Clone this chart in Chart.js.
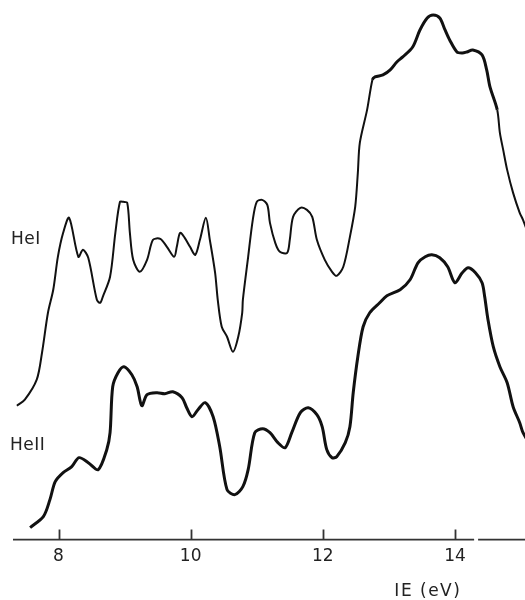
<!DOCTYPE html>
<html>
<head>
<meta charset="utf-8">
<script src="https://cdn.jsdelivr.net/npm/chart.js@4.4.1/dist/chart.umd.min.js"></script>
<style>
html,body{margin:0;padding:0;background:#fff;}
canvas{display:block;}
</style>
</head>
<body>
<canvas id="c" width="525" height="600"></canvas>
<script>
// Ionization energy (eV) and relative intensity (arbitrary units, offset traces)
const heIEnergy = [7.37,7.49,7.67,7.75,7.84,7.92,7.99,8.07,8.16,8.30,8.37,8.45,8.58,8.63,8.67,8.78,8.86,8.93,8.98,9.04,9.08,9.13,9.23,9.34,9.43,9.54,9.64,9.75,9.79,9.84,9.91,9.99,10.07,10.14,10.23,10.29,10.37,10.41,10.47,10.55,10.64,10.72,10.78,10.79,10.87,10.94,11.00,11.08,11.16,11.20,11.28,11.35,11.46,11.50,11.55,11.66,11.76,11.84,11.91,12.03,12.14,12.21,12.31,12.41,12.49,12.53,12.56,12.67,12.75,12.79,12.91,13.02,13.12,13.21,13.36,13.47,13.58,13.67,13.77,13.85,13.92,14.03,14.11,14.18,14.27,14.41,14.48,14.53,14.64,14.68,14.73,14.79,14.88,14.98,15.03,15.14];
const heIIntensity = [134,140,160,187,227,250,283,307,322,283,290,282,240,237,243,263,307,338,338,337,307,280,268,280,300,301,293,283,293,307,302,293,285,300,322,300,267,240,213,203,188,203,227,240,283,320,338,340,335,317,297,288,287,300,323,332,330,323,300,280,268,264,273,303,333,367,397,430,460,463,465,470,478,483,493,510,522,525,522,510,500,488,487,488,490,485,470,453,430,407,390,370,347,327,320,300];

const heIIEnergy = [7.57,7.77,7.87,7.95,8.07,8.20,8.31,8.45,8.60,8.73,8.78,8.82,8.90,8.99,9.11,9.19,9.26,9.34,9.49,9.61,9.73,9.87,9.94,10.02,10.11,10.22,10.34,10.44,10.55,10.67,10.79,10.87,10.97,11.09,11.20,11.32,11.43,11.53,11.66,11.78,11.91,11.99,12.06,12.14,12.21,12.34,12.41,12.46,12.53,12.61,12.71,12.86,12.97,13.17,13.32,13.44,13.55,13.65,13.77,13.89,14.00,14.11,14.20,14.31,14.41,14.45,14.50,14.58,14.68,14.79,14.88,14.98,15.03,15.14];
const heIIIntensity = [12,23,40,58,67,73,82,77,70,90,107,153,167,173,165,153,134,145,147,146,148,142,132,123,130,137,123,93,50,45,53,70,107,111,107,97,92,107,127,132,125,113,90,82,83,97,113,147,183,213,227,237,244,250,260,277,283,285,282,273,257,267,272,267,257,243,220,193,173,157,133,117,107,95];

const tickValues = [8, 10, 12, 14];
const seriesLabels = ["HeI", "HeII"];
const axisTitle = "IE (eV)";

const toXY = (xs, ys) => xs.map((x, i) => ({x: x, y: ys[i]}));

const decor = {
  id: 'decor',
  afterDraw(chart) {
    const ctx = chart.ctx;
    const xs = chart.scales.x;
    const ys = chart.scales.y;
    const base = ys.getPixelForValue(0);
    ctx.save();
    ctx.strokeStyle = '#333';
    ctx.lineWidth = 1.6;
    // axis line with small break near 14.3 eV
    ctx.beginPath();
    ctx.moveTo(xs.left, base);
    ctx.lineTo(xs.getPixelForValue(14.29), base);
    ctx.moveTo(xs.getPixelForValue(14.35), base);
    ctx.lineTo(xs.right, base);
    ctx.stroke();
    // upward tick marks
    ctx.lineWidth = 1.8;
    ctx.beginPath();
    tickValues.forEach(v => {
      const px = Math.round(xs.getPixelForValue(v)) + 0.5;
      ctx.moveTo(px, base);
      ctx.lineTo(px, base - 10);
    });
    ctx.stroke();
    // labels
    ctx.fillStyle = '#222';
    ctx.font = '17px "DejaVu Sans"';
    ctx.textBaseline = 'middle';
    ctx.textAlign = 'left';
    ctx.letterSpacing = '0.5px';
    ctx.fillText(seriesLabels[0], 11, 240);
    ctx.fillText(seriesLabels[1], 10, 446);
    ctx.font = '17px "DejaVu Sans"';
    ctx.letterSpacing = '1.5px';
    ctx.textAlign = 'center';
    ctx.fillText(axisTitle, xs.getPixelForValue(13.59), 592);
    ctx.restore();
  }
};

new Chart(document.getElementById('c'), {
  type: 'line',
  data: {
    datasets: [
      {
        label: seriesLabels[0],
        data: toXY(heIEnergy, heIIntensity),
        borderColor: '#111',
        borderWidth: 2,
        segment: { borderWidth: c => (c.p0.parsed.x > 12.7 && c.p0.parsed.x < 14.6) ? 3 : 2 },
        pointRadius: 0,
        tension: 0.3,
        fill: false
      },
      {
        label: seriesLabels[1],
        data: toXY(heIIEnergy, heIIIntensity),
        borderColor: '#111',
        borderWidth: 3,
        pointRadius: 0,
        tension: 0.3,
        fill: false
      }
    ]
  },
  options: {
    responsive: false,
    animation: false,
    devicePixelRatio: 1,
    layout: { padding: { left: 13, right: 0, top: 0, bottom: 26 } },
    plugins: { legend: { display: false }, tooltip: { enabled: false } },
    scales: {
      x: {
        type: 'linear',
        min: 7.311,
        max: 15.06,
        grid: { display: false, drawTicks: false },
        border: { display: false },
        afterBuildTicks: s => { s.ticks = tickValues.map(v => ({value: v})); },
        ticks: {
          padding: 7,
          color: '#222',
          font: { family: 'DejaVu Sans', size: 17 },
          maxRotation: 0,
          callback: v => String(v)
        }
      },
      y: {
        type: 'linear',
        display: false,
        min: 0,
        max: 540
      }
    }
  },
  plugins: [decor]
});
</script>
</body>
</html>
